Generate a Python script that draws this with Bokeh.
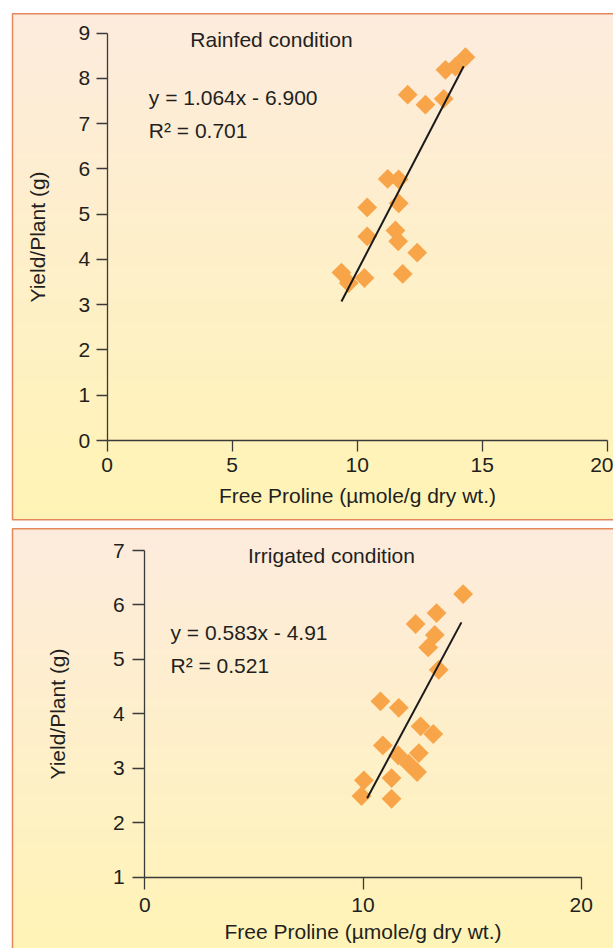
import numpy as np
from bokeh.plotting import figure
from bokeh.layouts import column
from bokeh.models import FixedTicker, Range1d
from bokeh.core.properties import value
from bokeh.embed import file_html
from bokeh.resources import INLINE

# ---------------- data ----------------
rain_x = [14.33, 13.53, 13.93, 12.02, 12.73, 13.46, 11.22, 11.66, 10.40, 11.66,
          10.40, 11.53, 11.64, 12.40, 9.37, 9.66, 10.29, 11.82]
rain_y = [8.47, 8.19, 8.26, 7.64, 7.42, 7.55, 5.78, 5.77, 5.15, 5.24,
          4.51, 4.64, 4.40, 4.15, 3.71, 3.48, 3.59, 3.68]
rain_fit_x = [9.37, 14.26]
rain_fit_y = [3.07, 8.27]
rain_title = "Rainfed condition"
rain_eq = "y = 1.064x - 6.900"
rain_r2 = "R\u00b2 = 0.701"

irr_x = [14.59, 13.37, 12.41, 13.29, 12.99, 13.47, 10.80, 11.64, 12.64, 13.22,
         10.91, 11.61, 12.56, 12.10, 12.48, 10.04, 11.31, 9.93, 11.31]
irr_y = [6.20, 5.85, 5.65, 5.45, 5.22, 4.81, 4.23, 4.11, 3.77, 3.63,
         3.42, 3.24, 3.28, 3.08, 2.93, 2.78, 2.82, 2.49, 2.44]
irr_fit_x = [10.19, 14.51]
irr_fit_y = [2.45, 5.68]
irr_title = "Irrigated condition"
irr_eq = "y = 0.583x - 4.91"
irr_r2 = "R\u00b2 = 0.521"

top_xticks = [0, 5, 10, 15, 20]
top_yticks = [0, 1, 2, 3, 4, 5, 6, 7, 8, 9]
bot_xticks = [0, 10, 20]
bot_yticks = [1, 2, 3, 4, 5, 6, 7]

x_label = "Free Proline (\u00b5mole/g dry wt.)"
y_label = "Yield/Plant (g)"

# ---------------- style ----------------
FONT = "Liberation Sans"
TXT = "#231f20"
AX = "#3a3a3a"
ORANGE = "#F8A54A"
BORDER = "#E5875A"
C_TOP = (253, 235, 221)
C_BOT = (255, 244, 181)
W = 613
FS = "21px"


def gradient(n=256):
    img = np.empty((n, 1), dtype=np.uint32)
    v = img.view(dtype=np.uint8).reshape((n, 1, 4))
    t = np.linspace(0, 1, n)  # row 0 = bottom
    for k in range(3):
        v[:, 0, k] = np.round(C_BOT[k] + (C_TOP[k] - C_BOT[k]) * t).astype(np.uint8)
    v[:, 0, 3] = 255
    return img


def panel(H, x0px, xs, y0px, y0val, ys, box, xticks, yticks, xs_data, ys_data,
          fit_x, fit_y, title, eq, r2, title_px, eq_px, r2_px,
          xstand, ystand, xlab_stand, ylab_stand, tick_out):
    px2x = lambda px: (px - x0px) / xs
    py2y = lambda py: y0val + (y0px - py) / ys
    p = figure(width=W, height=H, output_backend="svg", toolbar_location=None,
               x_range=Range1d(px2x(0), px2x(W)), y_range=Range1d(py2y(H), py2y(0)),
               min_border=0, min_border_left=0, min_border_right=0,
               min_border_top=0, min_border_bottom=0)
    p.background_fill_color = "white"
    p.border_fill_color = "white"
    p.outline_line_color = None
    p.grid.visible = False

    bl, bt, bb = box
    left, top, bottom = px2x(bl), py2y(bt), py2y(bb)
    right = px2x(W + 20)
    p.image_rgba(image=[gradient()], x=left, y=bottom, dw=right - left, dh=top - bottom)
    p.quad(left=left, right=right, top=top, bottom=bottom, fill_color=None,
           line_color=BORDER, line_width=1.5)

    p.scatter(xs_data, ys_data, marker="square", angle=np.pi / 4, size=14,
              fill_color=ORANGE, line_color=None)
    p.line(fit_x, fit_y, line_color="#1a1a1a", line_width=2)

    p.text(x=[px2x(title_px[0])], y=[py2y(title_px[1])], text=[title],
           text_font=value(FONT), text_font_size=FS, text_color=TXT,
           text_align="center", text_baseline="middle")
    p.text(x=[px2x(eq_px[0]), px2x(r2_px[0])], y=[py2y(eq_px[1]), py2y(r2_px[1])],
           text=[eq, r2], text_font=value(FONT), text_font_size=FS,
           text_color=TXT, text_align="left", text_baseline="middle")

    xa = p.xaxis[0]
    ya = p.yaxis[0]
    xa.fixed_location = yticks[0]
    ya.fixed_location = xticks[0]
    xa.bounds = (xticks[0], xticks[-1])
    ya.bounds = (yticks[0], yticks[-1])
    xa.ticker = FixedTicker(ticks=xticks)
    ya.ticker = FixedTicker(ticks=yticks)
    for a, st, lst in ((xa, xstand, xlab_stand), (ya, ystand, ylab_stand)):
        a.axis_line_color = AX
        a.axis_line_width = 1.3
        a.major_tick_line_color = AX
        a.major_tick_line_width = 1.3
        a.major_tick_in = 0
        a.major_tick_out = tick_out
        a.minor_tick_line_color = None
        a.major_label_text_font = FONT
        a.major_label_text_font_size = FS
        a.major_label_text_color = TXT
        a.major_label_standoff = st
        a.axis_label_text_font = FONT
        a.axis_label_text_font_size = FS
        a.axis_label_text_font_style = "normal"
        a.axis_label_text_color = TXT
        a.axis_label_standoff = lst
    xa.axis_label = x_label
    ya.axis_label = y_label
    ya.major_label_orientation = "horizontal"
    return p


p1 = panel(523, 106.7, 25.0, 440.0, 0, 45.26, (12, 13.3, 519.3),
           top_xticks, top_yticks, rain_x, rain_y, rain_fit_x, rain_fit_y,
           rain_title, rain_eq, rain_r2, (271, 39), (148.3, 97), (148.3, 130),
           6, 6, 9, 27, 11)
p2 = panel(425, 144.3, 21.82, 353.7, 1, 54.45, (12, 5.3, 440),
           bot_xticks, bot_yticks, irr_x, irr_y, irr_fit_x, irr_fit_y,
           irr_title, irr_eq, irr_r2, (331, 32), (170, 109), (170, 142),
           9, 8, 4, 41, 12)

layout = column(p1, p2, spacing=0)
open("out.html", "w").write(file_html(layout, INLINE))
